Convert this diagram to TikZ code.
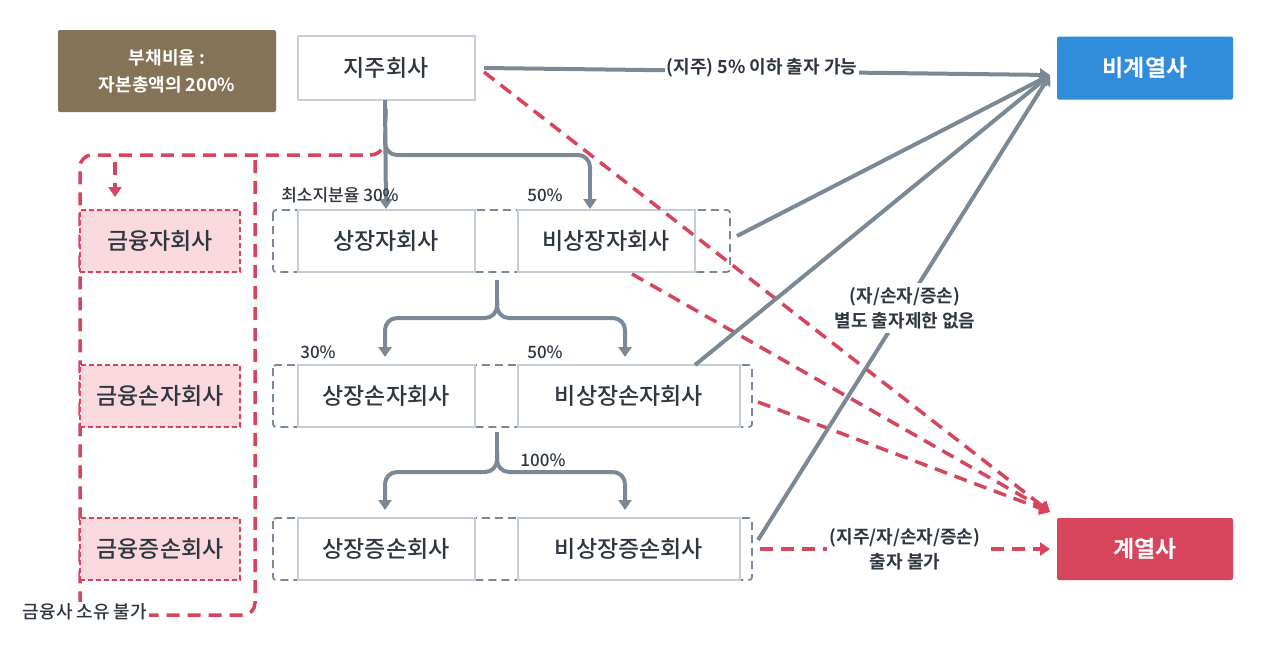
\documentclass[tikz,border=0pt]{standalone}
\usepackage{fontspec}
\setmainfont{Noto Sans CJK KR Medium}[BoldFont={Noto Sans CJK KR Bold}]
\usetikzlibrary{arrows.meta}
\definecolor{gl}{HTML}{7B8896}
\definecolor{rd}{HTML}{D6455C}
\definecolor{bl}{HTML}{2F8DDC}
\definecolor{br}{HTML}{857358}
\definecolor{pk}{HTML}{F9D9DD}
\definecolor{bd}{HTML}{C5CDD7}
\definecolor{tx}{HTML}{2E3640}
\begin{document}
\begin{tikzpicture}[x=1pt,y=-1pt,
 box/.style={draw=bd,line width=2pt,fill=white,text=tx,font=\fontsize{23}{26}\selectfont},
 fin/.style={draw=rd,dash pattern=on 5pt off 3pt,line width=1.6pt,fill=pk,text=tx,font=\fontsize{23}{26}\selectfont},
 grp/.style={draw=gl,dash pattern=on 8pt off 5pt,line width=1.8pt,rounded corners=3pt},
 garr/.style={draw=gl,line width=4pt,-{Triangle[length=10pt,width=13pt]}},
 gline/.style={draw=gl,line width=4pt},
 rline/.style={draw=rd,line width=3.5pt,dash pattern=on 13pt off 8pt},
 rarr/.style={rline,-{Triangle[length=10pt,width=13pt]}},
 lbl/.style={text=tx,font=\fontsize{17}{20}\selectfont},
 blbl/.style={text=tx,font=\bfseries\fontsize{18}{25}\selectfont,align=center},
]
\useasboundingbox (0,0) rectangle (1280,649);
\fill[white] (0,0) rectangle (1280,649);
% top row
\node[fill=br,text=white,rounded corners=2pt,minimum width=218pt,minimum height=82pt,align=center,font=\bfseries\fontsize{18}{27}\selectfont] (debt) at (167,71) {부채비율 :\\자본총액의 200\%};
\node[box,minimum width=177pt,minimum height=64pt] (hold) at (386,68) {지주회사};
\node[fill=bl,text=white,rounded corners=2pt,minimum width=176pt,minimum height=63pt,font=\bfseries\fontsize{23}{26}\selectfont] (non) at (1145,68) {비계열사};
\node[fill=rd,text=white,rounded corners=2pt,minimum width=176pt,minimum height=62pt,font=\bfseries\fontsize{23}{26}\selectfont] (aff) at (1145,549) {계열사};
\coordinate (nt) at (1050,75);
\coordinate (at) at (1050,512);
% groups
\draw[grp] (273,210) rectangle (730,272);
\draw[grp] (273,365) rectangle (752,427);
\draw[grp] (273,518) rectangle (752,580);
\node[box,minimum width=177pt,minimum height=62pt] (s1) at (386,241) {상장자회사};
\node[box,minimum width=177pt,minimum height=62pt] (u1) at (606,241) {비상장자회사};
\node[box,minimum width=177pt,minimum height=62pt] (s2) at (386,396) {상장손자회사};
\node[box,minimum width=222pt,minimum height=62pt] (u2) at (629,396) {비상장손자회사};
\node[box,minimum width=177pt,minimum height=62pt] (s3) at (386,549) {상장증손회사};
\node[box,minimum width=222pt,minimum height=62pt] (u3) at (629,549) {비상장증손회사};
\coordinate (g1r) at (737,236);
\coordinate (g1b) at (632,274);
\coordinate (g2r) at (758,402);
\coordinate (g3r) at (758,540);
% financial
\draw[rline,rounded corners=12pt] (255,160) -- (255,615) -- (80,615) -- (80,155) -- (370,155);
\node[fin,minimum width=160pt,minimum height=62pt] (f1) at (160,241) {금융자회사};
\node[fin,minimum width=160pt,minimum height=62pt] (f2) at (160,396) {금융손자회사};
\node[fin,minimum width=160pt,minimum height=62pt] (f3) at (160,549) {금융증손회사};
\draw[rline] (hold.south) ++(0,8) -- (385,140) to[out=-90,in=0] (370,155);
\draw[rarr] (115,162) -- (115,197);
\node[fill=white,text=tx,font=\fontsize{18}{21}\selectfont,inner sep=2pt] (nf) at (85,612) {금융사 소유 불가};
% gray tree arrows
\draw[garr] (385,100) -- (s1.north);
\draw[gline,rounded corners=12pt] (385,135) -- (385,155) -- (590,155) -- (590,175);
\draw[garr] (590,170) -- (u1.north -| 590,0);
\draw[gline] (497,280) -- (497,305);
\draw[garr,rounded corners=12pt] (497,300) -- (497,318) -- (385,318) -- (385,357);
\draw[garr,rounded corners=12pt] (497,300) -- (497,318) -- (625,318) -- (625,357);
\draw[gline] (497,432) -- (497,458);
\draw[garr,rounded corners=12pt] (497,452) -- (497,472) -- (385,472) -- (385,510);
\draw[garr,rounded corners=12pt] (497,452) -- (497,472) -- (625,472) -- (625,510);
\node[lbl] at (340,195) {최소지분율 30\%};
\node[lbl] at (545,195) {50\%};
\node[lbl] at (318,352) {30\%};
\node[lbl] at (545,352) {50\%};
\node[lbl] at (543,460) {100\%};
% red to affiliate
\draw[rarr] (484,72) -- (at);
\draw[rarr] (g1b) -- (at);
\draw[rarr] (g2r) -- (at);
\draw[rarr] (760,549) -- (1050,549);
% gray to non-affiliate
\draw[garr] (484,68) -- (nt);
\draw[garr] (g1r) -- (nt);
\draw[garr] (695,365) -- (nt);
\draw[garr] (g3r) -- (nt);
\node[blbl,fill=white,inner sep=2pt] at (762,68) {(지주) 5\% 이하 출자 가능};
\node[blbl,fill=white,inner sep=4pt] at (905,308) {(자/손자/증손)\\별도 출자제한 없음};
\node[blbl,fill=white,inner sep=3pt] at (905,549) {(지주/자/손자/증손)\\출자 불가};
\end{tikzpicture}
\end{document}
